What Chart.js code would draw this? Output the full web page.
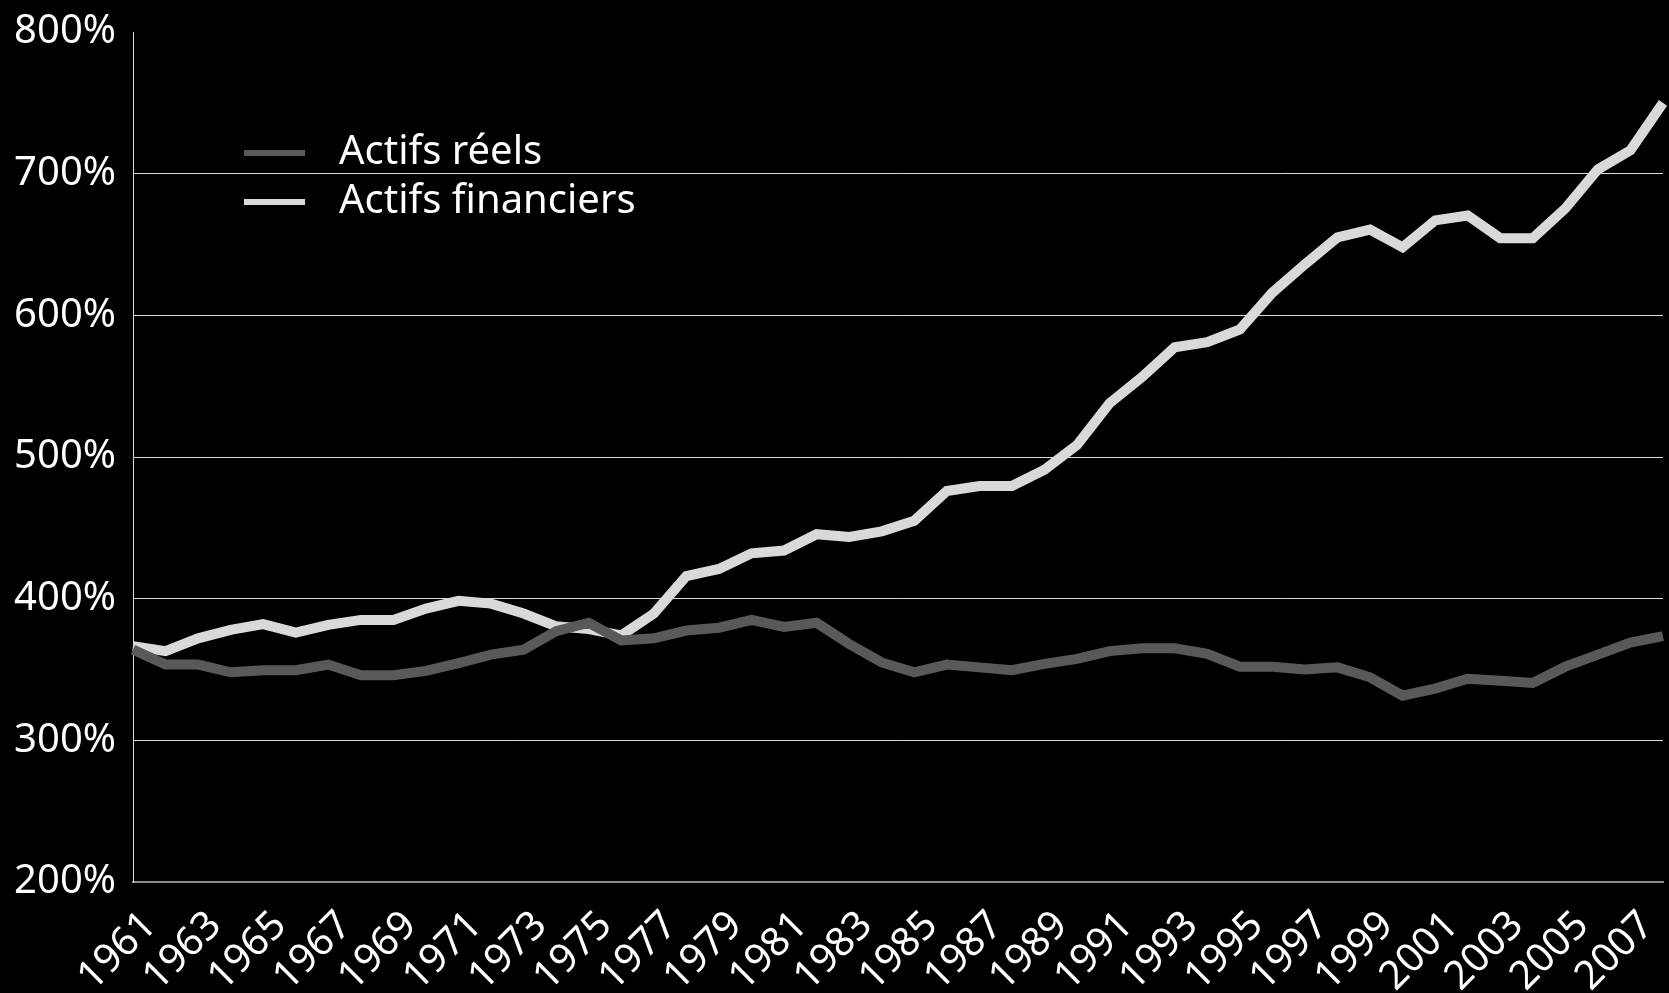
<!DOCTYPE html>
<html lang="fr">
<head>
<meta charset="utf-8">
<title>Actifs réels et financiers</title>
<script src="https://cdn.jsdelivr.net/npm/chart.js@4"></script>
<style>
  html, body { margin: 0; padding: 0; background: #000; }
  #wrap { width: 1669px; height: 993px; }
</style>
</head>
<body>
<div id="wrap"><canvas id="actifsChart"></canvas></div>
<script>
// Years (every other one is shown on the axis)
const annees = [
  1961, 1962, 1963, 1964, 1965, 1966, 1967, 1968, 1969, 1970,
  1971, 1972, 1973, 1974, 1975, 1976, 1977, 1978, 1979, 1980,
  1981, 1982, 1983, 1984, 1985, 1986, 1987, 1988, 1989, 1990,
  1991, 1992, 1993, 1994, 1995, 1996, 1997, 1998, 1999, 2000,
  2001, 2002, 2003, 2004, 2005, 2006, 2007, 2008
];

// Values in %
const actifsReels = [
  364, 353.5, 353.5, 348, 349.5, 349.5, 353.5, 346, 346, 349,
  354.5, 360.5, 364, 377, 383, 370.5, 372, 377.5, 379.5, 385,
  380, 383, 368, 355, 348, 353.5, 351.5, 349.5, 354, 357.5,
  363, 365, 365, 361, 352, 352, 350, 351.5, 344.5, 331.5,
  336.5, 343.5, 342, 340.5, 352, 360.5, 369, 373.5
];
const actifsFinanciers = [
  366.5, 363, 372, 378, 382, 376, 381.5, 385, 385, 393,
  398.5, 396.5, 389.5, 380.5, 378.5, 374, 389.5, 416, 421, 432,
  434, 445.5, 443.5, 447.5, 455, 476, 479.5, 479.5, 491, 508.5,
  538, 556.5, 577.5, 581, 590, 616, 636, 655, 660.5, 648,
  667, 670.5, 654.5, 654.5, 675.5, 703, 716.5, 750
];

const seriesNoms = ['Actifs réels', 'Actifs financiers'];
const seriesCouleurs = ['#595959', '#d9d9d9'];

// y ticks: 200% .. 800%
const yMin = 200, yMax = 800, yPas = 100;

Chart.defaults.font.family = "'Noto Sans', 'Open Sans', sans-serif";
Chart.defaults.color = '#fff';

// Legend drawn inside the plot, like the original
const legendeInterne = {
  id: 'legendeInterne',
  afterDraw(chart) {
    const ctx = chart.ctx;
    ctx.save();
    ctx.font = "40px 'Noto Sans', 'Open Sans', sans-serif";
    ctx.textBaseline = 'alphabetic';
    ctx.textAlign = 'left';
    chart.data.datasets.forEach((ds, i) => {
      const yLine = 153 + i * 49;
      ctx.strokeStyle = ds.borderColor;
      ctx.lineWidth = 6;
      ctx.beginPath();
      ctx.moveTo(244, yLine);
      ctx.lineTo(305, yLine);
      ctx.stroke();
      ctx.fillStyle = '#fff';
      ctx.fillText(ds.label, 339, 164 + i * 49);
    });
    ctx.restore();
  }
};

const ctx = document.getElementById('actifsChart').getContext('2d');
new Chart(ctx, {
  type: 'line',
  data: {
    labels: annees.map(String),
    datasets: [
      {
        label: seriesNoms[0],
        data: actifsReels,
        borderColor: seriesCouleurs[0],
        borderWidth: 10,
        pointRadius: 0,
        tension: 0,
        borderJoinStyle: 'miter',
        borderCapStyle: 'butt'
      },
      {
        label: seriesNoms[1],
        data: actifsFinanciers,
        borderColor: seriesCouleurs[1],
        borderWidth: 10,
        pointRadius: 0,
        tension: 0,
        borderJoinStyle: 'miter',
        borderCapStyle: 'butt'
      }
    ]
  },
  options: {
    responsive: true,
    maintainAspectRatio: false,
    animation: false,
    layout: { padding: { left: 12, right: 6, top: 32, bottom: 0 } },
    plugins: {
      legend: { display: false },
      tooltip: { enabled: false }
    },
    scales: {
      x: {
        offset: false,
        grid: { display: false, drawTicks: false },
        border: { color: '#8c8c8c', width: 2 },
        ticks: {
          autoSkip: false,
          minRotation: 45,
          maxRotation: 45,
          padding: 20,
          labelOffset: 17,
          color: '#fff',
          font: { size: 40 },
          callback: function(value, index) {
            return index % 2 === 0 ? annees[index] : '';
          }
        },
        afterFit(scale) {
          scale.height = 111;
          scale.paddingLeft = 0;
          scale.paddingRight = 0;
        }
      },
      y: {
        min: yMin,
        max: yMax,
        grid: {
          drawTicks: false,
          lineWidth: 1,
          color: (c) => (c.tick && (c.tick.value === yMin || c.tick.value === yMax))
            ? 'rgba(0,0,0,0)' : '#d9d9d9'
        },
        border: { color: '#d9d9d9', width: 1 },
        ticks: {
          stepSize: yPas,
          padding: 17,
          color: '#fff',
          font: { size: 40 },
          callback: (v) => v + '%'
        },
        afterFit(scale) {
          scale.width = 121;
          scale.paddingTop = 0;
          scale.paddingBottom = 0;
        }
      }
    }
  },
  plugins: [legendeInterne]
});
</script>
</body>
</html>
